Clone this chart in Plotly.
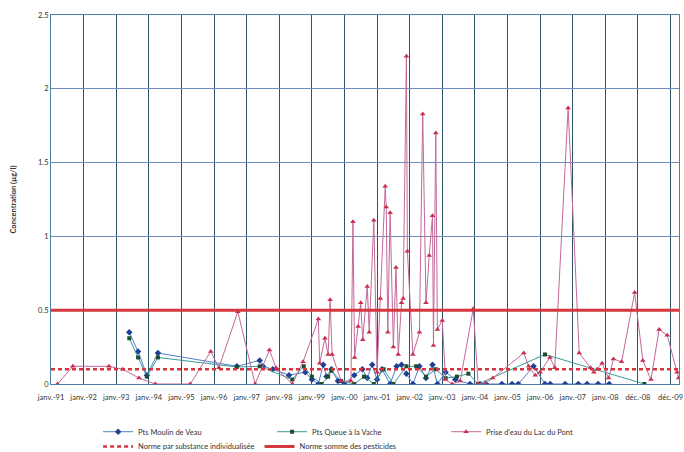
import plotly.graph_objects as go

# ---- data (x in decimal years) ----
tick_years = list(range(1991, 2011))
tick_labels = ["janv.-91", "janv.-92", "janv.-93", "janv.-94", "janv.-95", "janv.-96",
               "janv.-97", "janv.-98", "janv.-99", "janv.-00", "janv.-01", "janv.-02",
               "janv.-03", "janv.-04", "janv.-05", "janv.-06", "janv.-07", "janv.-08",
               "déc.-08", "déc.-09"]
x_range = [1991, 2010.26]

mv_x = [1993.4, 1993.67, 1993.94, 1994.28, 1996.7, 1997.4, 1997.5, 1997.8, 1998.3, 1998.8,
        1999.0, 1999.2, 1999.35, 1999.45, 1999.6, 1999.8, 2000.0, 2000.3, 2000.55, 2000.7,
        2000.85, 2001.0, 2001.15, 2001.4, 2001.6, 2001.75, 2001.9, 2002.1, 2002.3, 2002.5,
        2002.7, 2002.85, 2003.1, 2003.4, 2003.85, 2004.16, 2004.34, 2004.83, 2005.14, 2005.33,
        2005.8, 2006.15, 2006.31, 2006.77, 2007.17, 2007.44, 2007.78, 2008.12]
mv_y = [0.35, 0.22, 0.06, 0.21, 0.12, 0.16, 0.12, 0.10, 0.06, 0.08,
        0.03, 0.0, 0.13, 0.05, 0.10, 0.02, 0.0, 0.06, 0.10, 0.04,
        0.13, 0.03, 0.10, 0.0, 0.12, 0.13, 0.07, 0.0, 0.12, 0.04,
        0.13, 0.0, 0.08, 0.03, 0.0, 0.0, 0.0, 0.0, 0.0, 0.0,
        0.12, 0.0, 0.0, 0.0, 0.0, 0.0, 0.0, 0.0]

qv_x = [1993.4, 1993.67, 1993.94, 1994.28, 1996.7, 1997.4, 1998.4, 1998.75, 1999.0, 1999.3,
        1999.5, 1999.6, 1999.9, 2000.3, 2000.6, 2000.9, 2001.2, 2001.5, 2001.9, 2002.2,
        2002.5, 2002.8, 2003.1, 2003.45, 2003.8, 2004.1, 2006.15, 2009.2]
qv_y = [0.31, 0.18, 0.05, 0.18, 0.115, 0.12, 0.03, 0.12, 0.05, 0.0,
        0.05, 0.09, 0.02, 0.0, 0.05, 0.0, 0.10, 0.0, 0.12, 0.12,
        0.05, 0.10, 0.04, 0.05, 0.07, 0.0, 0.20, 0.0]

lac_x = [1991.2, 1991.67, 1992.78, 1993.2, 1993.7, 1994.2, 1995.27, 1995.9, 1996.15, 1996.73,
         1997.26, 1997.7, 1997.9, 1998.4, 1998.73, 1999.2, 1999.24, 1999.4, 1999.5, 1999.56,
         1999.62, 1999.9, 2000.2, 2000.26, 2000.31, 2000.42, 2000.5, 2000.56, 2000.7, 2000.76,
         2000.9, 2001.0, 2001.1, 2001.25, 2001.28, 2001.33, 2001.4, 2001.5, 2001.58, 2001.65,
         2001.75, 2001.8, 2001.9, 2001.93, 2002.1, 2002.3, 2002.4, 2002.5, 2002.6, 2002.7,
         2002.73, 2002.8, 2002.85, 2003.0, 2003.1, 2003.3, 2003.55, 2003.95, 2004.1, 2004.3,
         2004.55, 2005.5, 2005.65, 2005.85, 2006.0, 2006.3, 2006.45, 2006.86, 2007.2, 2007.55,
         2007.65, 2007.75, 2007.9, 2008.1, 2008.25, 2008.5, 2008.9, 2009.15, 2009.4, 2009.65,
         2009.9, 2010.2, 2010.25]
lac_y = [0, 0.12, 0.12, 0.10, 0.04, 0, 0, 0.22, 0.11, 0.49,
         0, 0.23, 0.11, 0, 0.15, 0.44, 0.14, 0.31, 0.20, 0.57,
         0.20, 0.02, 0.02, 1.10, 0.18, 0.39, 0.55, 0.30, 0.66, 0.35,
         1.11, 0.08, 0.58, 1.34, 1.20, 0.35, 1.16, 0.25, 0.79, 0.20,
         0.55, 0.58, 2.22, 0.90, 0.20, 0.35, 1.83, 0.55, 0.87, 1.14,
         0.26, 1.70, 0.37, 0.43, 0.03, 0.0, 0.02, 0.51, 0, 0,
         0.04, 0.21, 0.12, 0.06, 0.08, 0.18, 0.11, 1.87, 0.21, 0.11,
         0.08, 0.10, 0.14, 0.04, 0.17, 0.15, 0.62, 0.16, 0.03, 0.37,
         0.33, 0.08, 0.04]

norme_individuelle = 0.1
norme_somme = 0.5

FONT = "Lato"
fig = go.Figure()

fig.add_trace(go.Scatter(x=mv_x, y=mv_y, mode="lines+markers", name="Pts Moulin de Veau",
                         line=dict(color="#4f80c8", width=1),
                         marker=dict(symbol="diamond", size=5, color="#1f3f95"),
                         legend="legend"))
fig.add_trace(go.Scatter(x=qv_x, y=qv_y, mode="lines+markers", name="Pts Queue à la Vache",
                         line=dict(color="#3a9a9a", width=1),
                         marker=dict(symbol="square", size=4, color="#1d4d2d"),
                         legend="legend"))
fig.add_trace(go.Scatter(x=lac_x, y=lac_y, mode="lines+markers", name="Prise d'eau du Lac du Pont",
                         line=dict(color="#c4689a", width=1),
                         marker=dict(symbol="triangle-up", size=5, color="#c8304e"),
                         legend="legend"))
fig.add_trace(go.Scatter(x=x_range, y=[norme_individuelle] * 2, mode="lines",
                         name="Norme par substance individualisée",
                         line=dict(color="#d3363c", width=2.5, dash="4px,3px"),
                         legend="legend2"))
fig.add_trace(go.Scatter(x=x_range, y=[norme_somme] * 2, mode="lines",
                         name="Norme somme des pesticides",
                         line=dict(color="#d3363c", width=3),
                         legend="legend2"))

fig.update_layout(
    width=684, height=452,
    margin=dict(l=51, r=5, t=15, b=68, autoexpand=False),
    paper_bgcolor="white", plot_bgcolor="white",
    font=dict(family=FONT, size=8, color="#333333"),
    xaxis=dict(range=x_range, tickmode="array", tickvals=tick_years, ticktext=tick_labels,
               tickangle=0, showgrid=True, gridcolor="#2f5566", gridwidth=1,
               showline=True, linecolor="#4f7fa6", linewidth=1, mirror=True, zeroline=False,
               automargin=False,
               ticks="", tickfont=dict(size=7.5, color="#333333"), ticklabelstandoff=6),
    yaxis=dict(range=[0, 2.5], dtick=0.5, showgrid=True, gridcolor="#6d8fc0", gridwidth=1,
               showline=True, linecolor="#4f7fa6", linewidth=1, mirror=True, zeroline=False,
               automargin=False,
               ticks="", tickfont=dict(size=7.5, color="#333333"),
               title=dict(text="<b>Concentration (µg/l)</b>", font=dict(size=7.5), standoff=20)),
    showlegend=True,
    legend=dict(orientation="h", x=0.075, xanchor="left", y=-0.09, yanchor="top",
                entrywidth=129, entrywidthmode="pixels", font=dict(size=7.5),
                bgcolor="rgba(0,0,0,0)", tracegroupgap=0, itemwidth=30),
    legend2=dict(orientation="h", x=0.075, xanchor="left", y=-0.13, yanchor="top",
                 font=dict(size=7.5), bgcolor="rgba(0,0,0,0)", itemwidth=30),
)

fig.write_html("out.html", config={"displayModeBar": False})

# remove the browser's default page margin so the figure sits at the window's corner
with open("out.html", encoding="utf-8") as f:
    html = f.read()
html = html.replace("<head>", "<head><style>html,body{margin:0;padding:0;overflow:hidden;}</style>", 1)
with open("out.html", "w", encoding="utf-8") as f:
    f.write(html)
